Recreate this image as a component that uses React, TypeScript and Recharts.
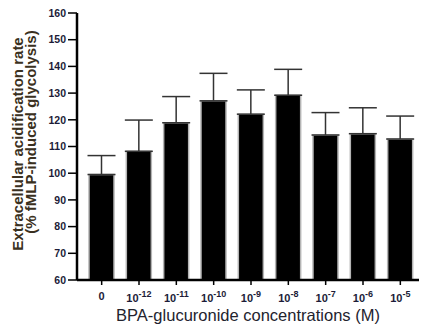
import { BarChart, Bar, XAxis, YAxis, ErrorBar } from 'recharts';

// concentrations: 0 then 10^exp (M)
const exponents = [null, -12, -11, -10, -9, -8, -7, -6, -5];
// mean ECAR, % of fMLP-induced glycolysis
const means = [99.5, 108.2, 118.9, 127.1, 122.1, 129.2, 114.3, 114.8, 112.8];
// SEM, upward only
const sems = [7.1, 11.7, 9.8, 10.3, 9.1, 9.7, 8.4, 9.7, 8.6];
const yTicks = [60, 70, 80, 90, 100, 110, 120, 130, 140, 150, 160];

const data = exponents.map((e, i) => ({
  conc: e === null ? '0' : `${e}`,
  mean: means[i],
  err: [0, sems[i]],
}));

const FONT = '"Liberation Sans", Arial, sans-serif';

const XTick = (props: any) => {
  const { x, y, payload } = props;
  const v = payload.value as string;
  if (v === '0') {
    return (
      <text x={x} y={y + 13} textAnchor="middle" fontFamily={FONT} fontWeight="bold" fontSize={11} fill="#1c1c38">
        0
      </text>
    );
  }
  return (
    <text x={x} y={y + 15} textAnchor="middle" fontFamily={FONT} fontWeight="bold" fontSize={11} fill="#1c1c38">
      10
      <tspan dy={-5} fontSize={9}>{v}</tspan>
    </text>
  );
};

const YLabel = () => (
  <g fontFamily={FONT} fontWeight="bold" fontSize={15} fill="#3a3020">
    <text x={23} y={144} textAnchor="middle" transform="rotate(-90 23 144)">
      Extracellular acidification rate
    </text>
    <text x={36} y={132} textAnchor="middle" transform="rotate(-90 36 132)">
      (% fMLP-induced glycolysis)
    </text>
  </g>
);

export default function App() {
  return (
    <div style={{ position: 'absolute', left: 0, top: 0, background: '#fff' }}>
      <BarChart
        width={426}
        height={330}
        data={data}
        margin={{ top: 13, right: 7, bottom: 0, left: 0 }}
        barCategoryGap={12}
      >
        <XAxis
          dataKey="conc"
          height={50}
          interval={0}
          tick={<XTick />}
          tickSize={5}
          tickLine={{ stroke: '#000', strokeWidth: 1.5 }}
          axisLine={{ stroke: '#000', strokeWidth: 2.5 }}
          padding={{ left: 6, right: 0 }}
          label={{
            value: 'BPA-glucuronide concentrations (M)',
            position: 'insideBottom',
            offset: 9,
            fontFamily: FONT,
            fontSize: 16.5,
            fill: '#23232e',
          }}
        />
        <YAxis
          width={77}
          domain={[60, 160]}
          ticks={yTicks}
          interval={0}
          allowDataOverflow
          tickSize={9}
          tickMargin={2}
          tickLine={{ stroke: '#000', strokeWidth: 1.5 }}
          axisLine={{ stroke: '#000', strokeWidth: 2.5 }}
          tick={{ fontFamily: FONT, fontWeight: 'bold', fontSize: 10.5, fill: '#1c1c38' }}
          label={<YLabel />}
        />
        <Bar dataKey="mean" fill="#000" stroke="#b4b4b4" strokeWidth={1.5} barSize={25} isAnimationActive={false}>
          <ErrorBar dataKey="err" width={14} stroke="#333" strokeWidth={1.5} direction="y" />
        </Bar>
      </BarChart>
    </div>
  );
}
